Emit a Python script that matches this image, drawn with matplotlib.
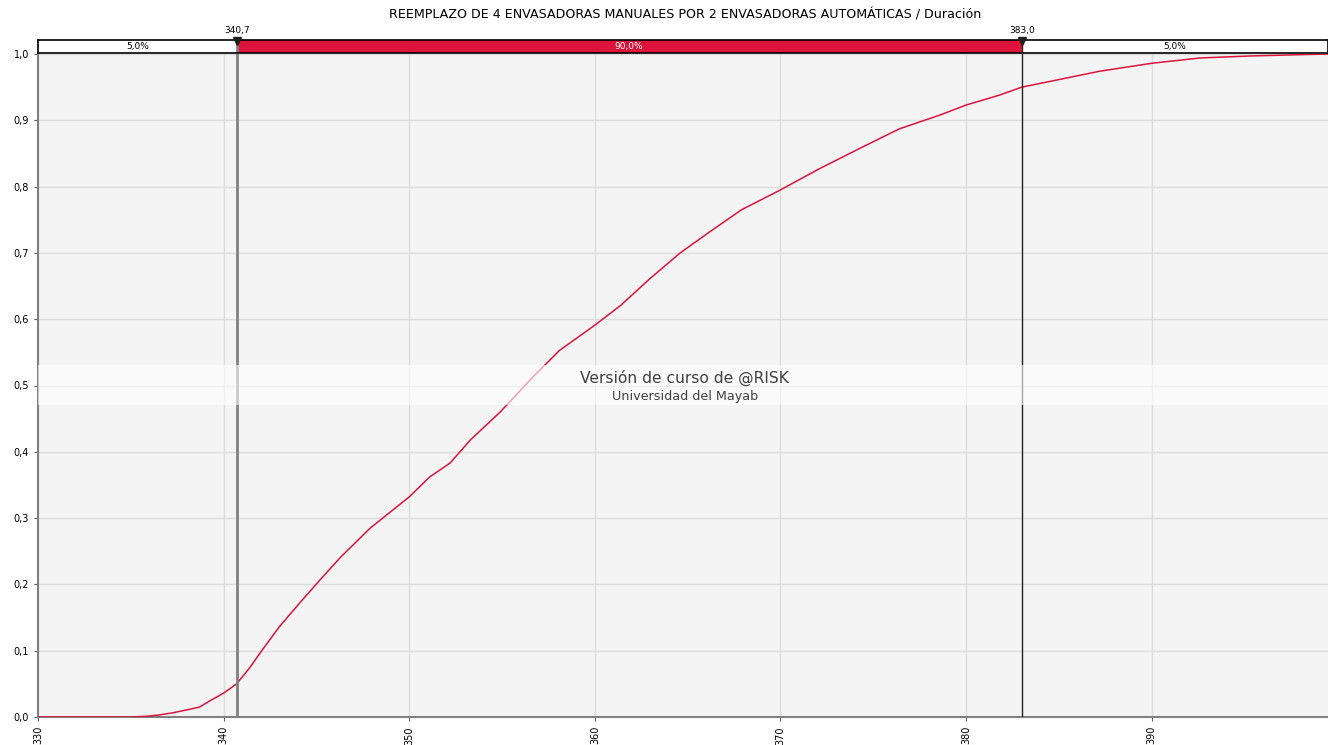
import matplotlib
matplotlib.use("Agg")
import matplotlib.pyplot as plt
from matplotlib.ticker import FuncFormatter

# CDF
duration = [330.0, 335.0, 335.8, 336.5, 337.2, 337.9, 338.7, 339.3, 340.0, 340.7,
            341.4, 342.0, 343.0, 344.1, 345.2, 346.3, 347.9, 350.0, 351.1, 352.2,
            353.3, 354.9, 356.6, 358.1, 360.0, 361.4, 363.0, 364.6, 366.2, 367.9,
            370.0, 372.1, 374.3, 376.4, 378.6, 380.0, 381.8, 383.0, 385.1, 387.2,
            390.0, 392.6, 395.3, 398.0, 399.5]
prob = [0.0, 0.0, 0.001, 0.003, 0.006, 0.010, 0.015, 0.025, 0.036, 0.050,
        0.074, 0.098, 0.136, 0.172, 0.207, 0.241, 0.285, 0.332, 0.362, 0.383,
        0.418, 0.460, 0.511, 0.553, 0.591, 0.621, 0.662, 0.700, 0.732, 0.765,
        0.795, 0.827, 0.858, 0.887, 0.908, 0.923, 0.938, 0.950, 0.962, 0.974,
        0.986, 0.994, 0.997, 0.999, 1.0]

lo, hi = 340.7, 383.0
band_labels = ["5,0%", "90,0%", "5,0%"]
xmin, xmax = 330, 399.5

fig = plt.figure(figsize=(13.28, 7.45), dpi=100)
ax = fig.add_axes([38 / 1328, 1 - 717 / 745, 1 - 38 / 1328, (717 - 54) / 745])
band = fig.add_axes([38 / 1328, 1 - 53 / 745, 1 - 38 / 1328, 13 / 745])

ax.set_facecolor("#f4f4f4")
ax.plot(duration, prob, color="#dc143c", lw=1.1, zorder=3)
ax.set_xlim(xmin, xmax)
ax.set_ylim(0, 1)
ax.set_xticks(range(330, 400, 10))
ax.set_yticks([i / 10 for i in range(11)])
ax.yaxis.set_major_formatter(FuncFormatter(lambda v, p: f"{v:.1f}".replace(".", ",")))
ax.tick_params(axis="x", labelrotation=90, labelsize=7, length=3, color="#606060")
ax.tick_params(axis="y", labelsize=7, length=3, color="#606060")
ax.grid(True, color="#dcdcdc", lw=1)
ax.set_axisbelow(True)
for s in ["top", "right"]:
    ax.spines[s].set_visible(False)
for s in ["left", "bottom"]:
    ax.spines[s].set_color("#808080")
    ax.spines[s].set_linewidth(1.5)

ax.axvline(lo, color="#808080", lw=2, zorder=4)
ax.axvline(hi, color="#202020", lw=1, zorder=4)

# watermark band
ax.axhspan(0.471, 0.531, color="white", alpha=0.6, lw=0, zorder=5)
ax.text((xmin + xmax) / 2 + 0.1, 0.512, "Versión de curso de @RISK", ha="center", va="center",
        fontsize=11.2, color="#404040", zorder=6)
ax.text((xmin + xmax) / 2 + 0.1, 0.484, "Universidad del Mayab", ha="center", va="center",
        fontsize=9.2, color="#404040", zorder=6)

# percentile band
band.set_xlim(xmin, xmax)
band.set_ylim(0, 1)
band.axvspan(xmin, lo, color="white", lw=0)
band.axvspan(lo, hi, color="#dc143c", lw=0)
band.axvspan(hi, xmax, color="white", lw=0)
band.set_xticks([])
band.set_yticks([])
for s in band.spines.values():
    s.set_color("black")
    s.set_linewidth(1.2)
mids = [(xmin + lo) / 2, (lo + hi) / 2, (hi + xmax) / 2]
cols = ["black", "white", "black"]
for m, lab, c in zip(mids, band_labels, cols):
    band.text(m, 0.5, lab, ha="center", va="center", fontsize=6.5, color=c)
band.axvline(lo, color="#808080", lw=2)
band.axvline(hi, color="#202020", lw=1)
for v in [lo, hi]:
    band.plot([v], [0.93], marker="v", color="#202020", ms=6, clip_on=False, zorder=5)
    band.text(v, 1.35, f"{v:.1f}".replace(".", ","), ha="center", va="bottom", fontsize=6.5)

fig.text(0.516, 1 - 15 / 745, "REEMPLAZO DE 4 ENVASADORAS MANUALES POR 2 ENVASADORAS AUTOMÁTICAS / Duración",
         ha="center", va="center", fontsize=9.1)

fig.savefig("out.png", dpi=100)
